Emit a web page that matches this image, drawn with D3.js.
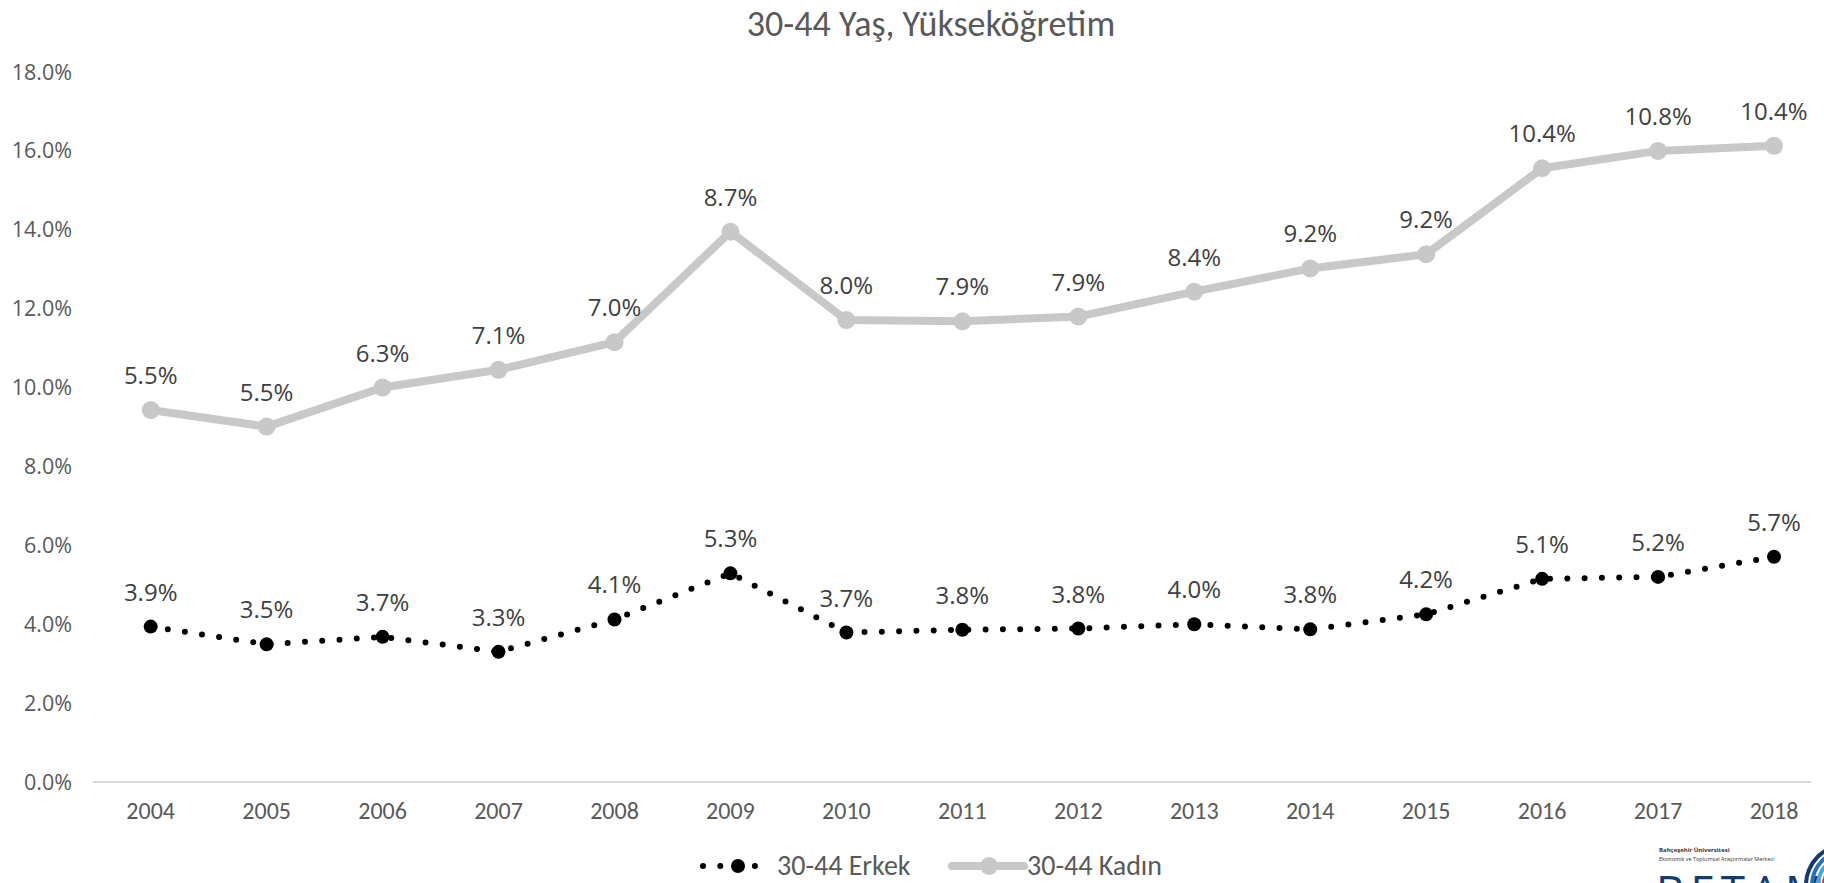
<!DOCTYPE html>
<html>
<head>
<meta charset="utf-8">
<script src="https://cdn.jsdelivr.net/npm/d3@7"></script>
<style>
  body { margin: 0; background: #fff; }
  svg { display: block; }
  .narrow { font-family: "Carlito", "Liberation Sans Narrow", "DejaVu Sans Condensed", sans-serif; }
  .segoe { font-family: "Open Sans", "Noto Sans", sans-serif; }
</style>
</head>
<body>
<script>
// chart data
var years = ["2004", "2005", "2006", "2007", "2008", "2009", "2010", "2011", "2012", "2013", "2014", "2015", "2016", "2017", "2018"];
var erkek = [3.94, 3.49, 3.68, 3.30, 4.12, 5.29, 3.79, 3.86, 3.89, 4.00, 3.87, 4.25, 5.15, 5.20, 5.71];
var kadin = [9.43, 9.01, 10.0, 10.45, 11.15, 13.95, 11.71, 11.68, 11.80, 12.43, 13.02, 13.38, 15.56, 16.0, 16.13];
var erkekLabels = ["3.9%", "3.5%", "3.7%", "3.3%", "4.1%", "5.3%", "3.7%", "3.8%", "3.8%", "4.0%", "3.8%", "4.2%", "5.1%", "5.2%", "5.7%"];
var kadinLabels = ["5.5%", "5.5%", "6.3%", "7.1%", "7.0%", "8.7%", "8.0%", "7.9%", "7.9%", "8.4%", "9.2%", "9.2%", "10.4%", "10.8%", "10.4%"];
var yTicks = [0, 2, 4, 6, 8, 10, 12, 14, 16, 18];

var width = 1824, height = 883;

var svg = d3.select("body").append("svg")
  .attr("width", width)
  .attr("height", height);

// scales
var x = d3.scalePoint().domain(years).range([92.7, 1832]).padding(0.5);
var y = d3.scaleLinear().domain([0, 18]).range([782, 72]);

// title
svg.append("text")
  .attr("class", "narrow")
  .attr("x", 931)
  .attr("y", 36)
  .attr("text-anchor", "middle")
  .style("font-size", "36px")
  .style("fill", "#595959")
  .text("30-44 Yaş, Yükseköğretim");

// y axis labels (no gridlines)
svg.append("g").selectAll("text")
  .data(yTicks)
  .enter().append("text")
  .attr("class", "segoe")
  .attr("x", 72)
  .attr("y", function(d) { return y(d); })
  .attr("dy", "0.35em")
  .attr("text-anchor", "end")
  .style("font-size", "21.5px")
  .style("fill", "#595959")
  .text(function(d) { return d3.format(".1f")(d) + "%"; });

// baseline
svg.append("line")
  .attr("x1", 93).attr("x2", 1811)
  .attr("y1", y(0)).attr("y2", y(0))
  .style("stroke", "#d9d9d9")
  .style("stroke-width", 2);

// x axis labels
svg.append("g").selectAll("text")
  .data(years)
  .enter().append("text")
  .attr("class", "narrow")
  .attr("x", function(d) { return x(d); })
  .attr("y", 819)
  .attr("text-anchor", "middle")
  .style("font-size", "24px")
  .style("fill", "#595959")
  .text(function(d) { return d; });

var line = d3.line()
  .x(function(d, i) { return x(years[i]); })
  .y(function(d) { return y(d); });

// Kadın series
svg.append("path")
  .datum(kadin)
  .attr("d", line)
  .style("fill", "none")
  .style("stroke", "#c8c8c8")
  .style("stroke-width", 8)
  .style("stroke-linejoin", "round");

svg.append("g").selectAll("circle")
  .data(kadin)
  .enter().append("circle")
  .attr("cx", function(d, i) { return x(years[i]); })
  .attr("cy", function(d) { return y(d); })
  .attr("r", 9)
  .style("fill", "#c8c8c8");

// Erkek series (round dots)
svg.append("path")
  .datum(erkek)
  .attr("d", line)
  .style("fill", "none")
  .style("stroke", "#000")
  .style("stroke-width", 6)
  .style("stroke-linecap", "round")
  .style("stroke-dasharray", "0 17.3");

svg.append("g").selectAll("circle")
  .data(erkek)
  .enter().append("circle")
  .attr("cx", function(d, i) { return x(years[i]); })
  .attr("cy", function(d) { return y(d); })
  .attr("r", 7)
  .style("fill", "#000");

// data labels
function addLabels(vals, labels) {
  svg.append("g").selectAll("text")
    .data(vals)
    .enter().append("text")
    .attr("class", "segoe")
    .attr("x", function(d, i) { return x(years[i]); })
    .attr("y", function(d) { return y(d) - 26; })
    .attr("text-anchor", "middle")
    .style("font-size", "24px")
    .style("fill", "#404040")
    .text(function(d, i) { return labels[i]; });
}
addLabels(kadin, kadinLabels);
addLabels(erkek, erkekLabels);

// legend
var lg = svg.append("g");
lg.append("line")
  .attr("x1", 703).attr("x2", 760).attr("y1", 866).attr("y2", 866)
  .style("stroke", "#000")
  .style("stroke-width", 6)
  .style("stroke-linecap", "round")
  .style("stroke-dasharray", "0 17.3");
lg.append("circle").attr("cx", 738).attr("cy", 866).attr("r", 7).style("fill", "#000");
lg.append("text")
  .attr("class", "narrow")
  .attr("x", 777).attr("y", 875)
  .style("font-size", "28px")
  .style("fill", "#595959")
  .text("30-44 Erkek");

lg.append("line")
  .attr("x1", 952).attr("x2", 1024).attr("y1", 866).attr("y2", 866)
  .style("stroke", "#c8c8c8")
  .style("stroke-width", 8)
  .style("stroke-linecap", "round");
lg.append("circle").attr("cx", 989).attr("cy", 866).attr("r", 9).style("fill", "#c8c8c8");
lg.append("text")
  .attr("class", "narrow")
  .attr("x", 1027).attr("y", 875)
  .style("font-size", "28px")
  .style("fill", "#595959")
  .text("30-44 Kadın");

// logo (bottom right, cut off by the frame as in the original)
var logo = svg.append("g");
logo.append("text")
  .attr("class", "segoe")
  .attr("x", 1659).attr("y", 852)
  .style("font-size", "6px")
  .style("font-weight", "bold")
  .style("fill", "#333")
  .text("Bahçeşehir Üniversitesi");
logo.append("text")
  .attr("class", "segoe")
  .attr("x", 1659).attr("y", 861)
  .style("font-size", "5.5px")
  .style("fill", "#333")
  .text("Ekonomik ve Toplumsal Araştırmalar Merkezi");
logo.append("text")
  .attr("class", "segoe")
  .attr("x", 1656).attr("y", 907)
  .style("font-size", "44px")
  .style("letter-spacing", "6px")
  .style("fill", "#173a6a")
  .text("BETAM");
var arcColors = ["#173a6a", "#2a6fb5", "#4aa3df", "#d32f2f"];
var arcR = [42, 36, 30, 24];
arcColors.forEach(function(c, i) {
  logo.append("path")
    .attr("d", d3.arc()({innerRadius: arcR[i] - 4, outerRadius: arcR[i], startAngle: -Math.PI / 2, endAngle: Math.PI / 2}))
    .attr("transform", "translate(1846,885)")
    .style("fill", c);
});
</script>
</body>
</html>
